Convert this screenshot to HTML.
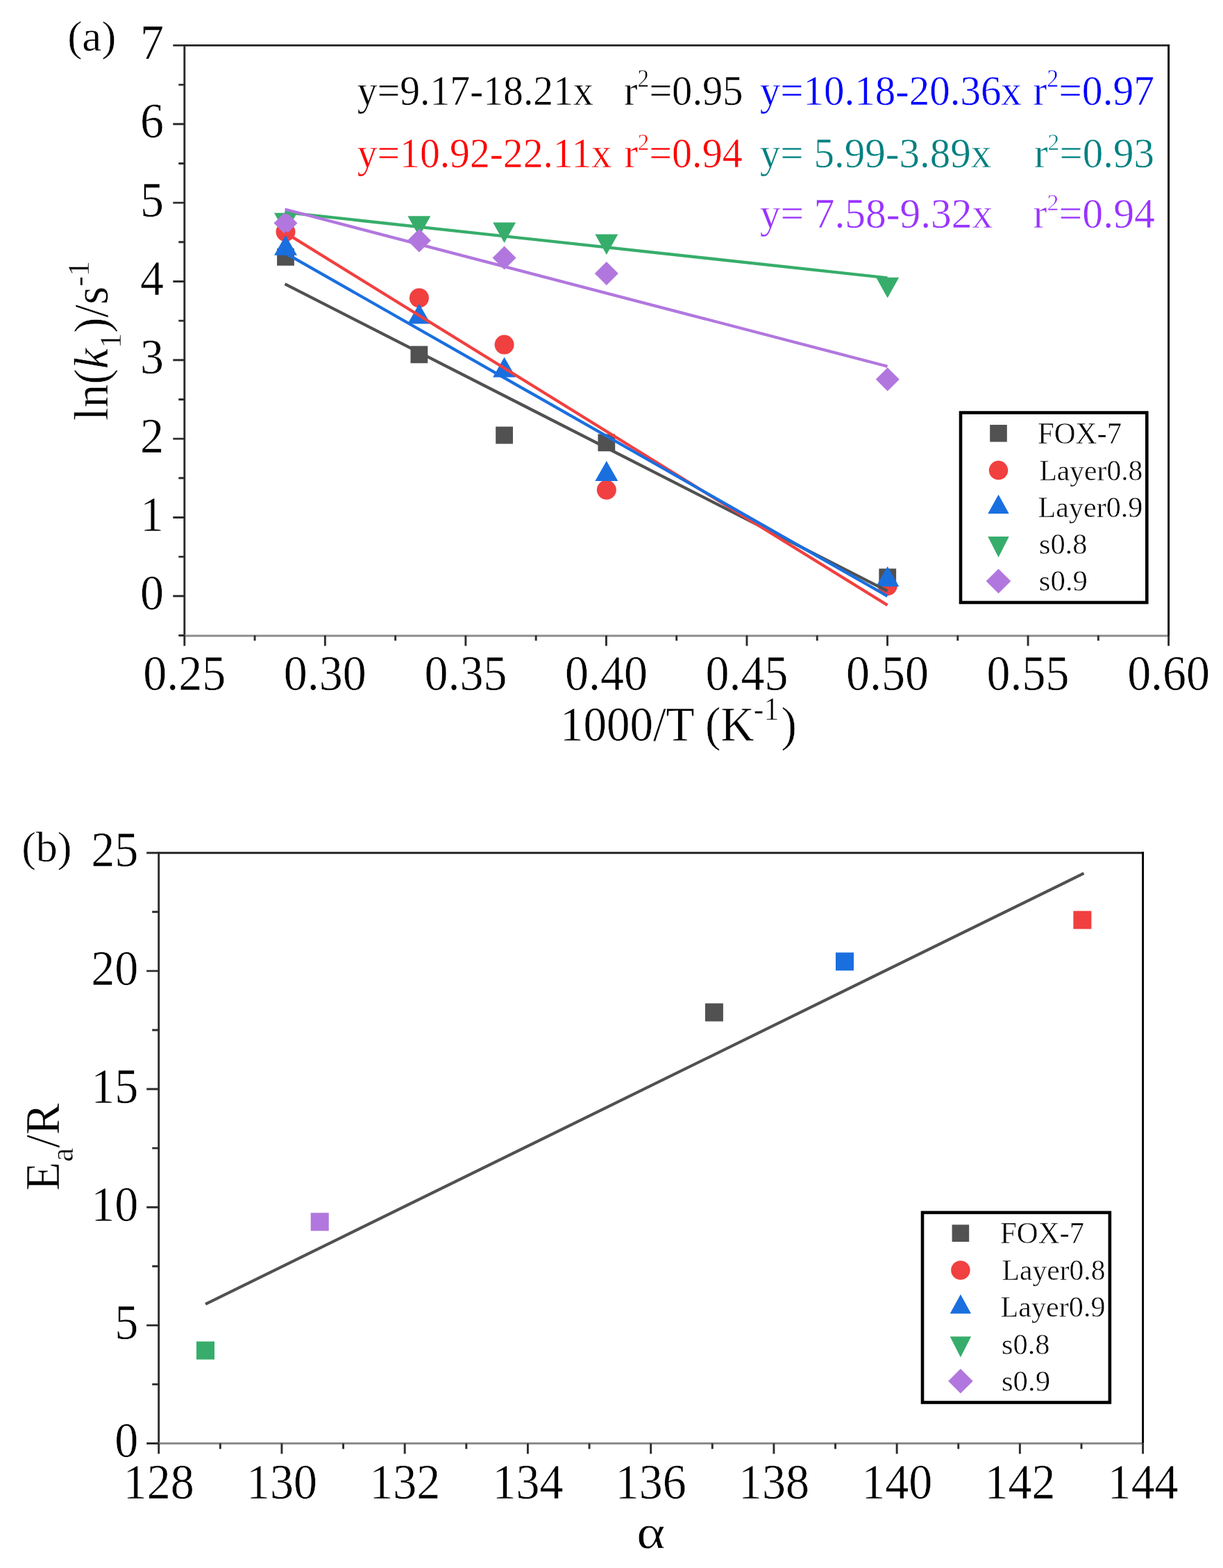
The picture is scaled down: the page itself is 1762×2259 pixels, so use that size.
<!DOCTYPE html>
<html><head><meta charset="utf-8"><title>Figure</title>
<style>html,body{margin:0;padding:0;background:#fff;overflow:hidden;}svg{display:block;}text{font-family:"Liberation Serif", "Times New Roman", serif;stroke:#fff;stroke-width:0.5px;}</style>
</head><body>
<svg width="1762" height="2259" viewBox="0 0 1762 2259">
<rect width="1762" height="2259" fill="#fff"/>
<g id="panel-a">
<path d="M264.35 65.42H1685.07" stroke="#222" stroke-width="2.9"/>
<path d="M265.8 65.42V915.97" stroke="#2a2a2a" stroke-width="2.9"/>
<path d="M265.8 915.97H1683.62" stroke="#8c8c8c" stroke-width="2.9"/>
<path d="M1683.62 63.97V915.97" stroke="#000" stroke-width="2.9"/>
<path d="M249.3 858.8H265.8M249.3 745.46H265.8M249.3 632.12H265.8M249.3 518.78H265.8M249.3 405.44H265.8M249.3 292.1H265.8M249.3 178.76H265.8M249.3 65.42H265.8M257.3 915.47H265.8M257.3 802.13H265.8M257.3 688.79H265.8M257.3 575.45H265.8M257.3 462.11H265.8M257.3 348.77H265.8M257.3 235.43H265.8M257.3 122.09H265.8M265.8 915.47V930.47M468.34 915.47V930.47M670.89 915.47V930.47M873.44 915.47V930.47M1075.98 915.47V930.47M1278.53 915.47V930.47M1481.07 915.47V930.47M1683.62 915.47V930.47M367.07 915.47V922.97M569.62 915.47V922.97M772.16 915.47V922.97M974.71 915.47V922.97M1177.25 915.47V922.97M1379.8 915.47V922.97M1582.34 915.47V922.97" stroke="#2c2c2c" stroke-width="2.9" fill="none"/>
<g font-size="68" fill="#000" text-anchor="end">
<text transform="translate(236 878.4) scale(1 1.045)">0</text>
<text transform="translate(236 765.06) scale(1 1.045)">1</text>
<text transform="translate(236 651.72) scale(1 1.045)">2</text>
<text transform="translate(236 538.38) scale(1 1.045)">3</text>
<text transform="translate(236 425.04) scale(1 1.045)">4</text>
<text transform="translate(236 311.7) scale(1 1.045)">5</text>
<text transform="translate(236 198.36) scale(1 1.045)">6</text>
<text transform="translate(236 85.02) scale(1 1.045)">7</text>
</g>
<g font-size="68" fill="#000" text-anchor="middle">
<text transform="translate(265.8 994.3) scale(1 1.045)">0.25</text>
<text transform="translate(468.34 994.3) scale(1 1.045)">0.30</text>
<text transform="translate(670.89 994.3) scale(1 1.045)">0.35</text>
<text transform="translate(873.44 994.3) scale(1 1.045)">0.40</text>
<text transform="translate(1075.98 994.3) scale(1 1.045)">0.45</text>
<text transform="translate(1278.53 994.3) scale(1 1.045)">0.50</text>
<text transform="translate(1481.07 994.3) scale(1 1.045)">0.55</text>
<text transform="translate(1683.62 994.3) scale(1 1.045)">0.60</text>
</g>
<text transform="translate(807 1067) scale(1 1.045)" font-size="67" fill="#000">1000/T (K<tspan font-size="44" dy="-29" dx="-1">-1</tspan><tspan dy="29" dx="3">)</tspan></text>
<text transform="translate(155 491) rotate(-90) scale(1 1.03)" text-anchor="middle" font-size="67" fill="#000">ln(<tspan font-style="italic">k</tspan><tspan font-size="44" dy="18">1</tspan><tspan dy="-18">)/s</tspan><tspan font-size="44" dy="-26.5">-1</tspan></text>
<text transform="translate(97.2 73.2) scale(1.02 1)" font-size="62" fill="#000">(a)</text>
<text transform="translate(514.81 150.80) scale(0.9944 1.0579)" font-size="58" fill="#000">y=9.17-18.21x</text>
<text transform="translate(898.98 150.80) scale(1.0091 1.0579)" font-size="58" fill="#000">r<tspan font-size="33" dy="-24">2</tspan><tspan dy="24">=0.95</tspan></text>
<text transform="translate(514.81 240.90) scale(0.9932 1.0447)" font-size="58" fill="#FF0000">y=10.92-22.11x</text>
<text transform="translate(899.50 240.90) scale(1.0012 1.0447)" font-size="58" fill="#FF0000">r<tspan font-size="33" dy="-24">2</tspan><tspan dy="24">=0.94</tspan></text>
<text transform="translate(1094.78 150.70) scale(1.0165 1.0553)" font-size="58" fill="#0000FF">y=10.18-20.36x</text>
<text transform="translate(1488.44 150.70) scale(1.0277 1.0553)" font-size="58" fill="#0000FF">r<tspan font-size="33" dy="-24">2</tspan><tspan dy="24">=0.97</tspan></text>
<text transform="translate(1094.78 240.80) scale(1.0185 1.0395)" font-size="58" fill="#008080">y= 5.99-3.89x</text>
<text transform="translate(1489.96 240.80) scale(1.0176 1.0395)" font-size="58" fill="#008080">r<tspan font-size="33" dy="-24">2</tspan><tspan dy="24">=0.93</tspan></text>
<text transform="translate(1094.78 327.80) scale(1.0240 1.0447)" font-size="58" fill="#9933FF">y= 7.58-9.32x</text>
<text transform="translate(1488.43 327.80) scale(1.0329 1.0447)" font-size="58" fill="#9933FF">r<tspan font-size="33" dy="-24">2</tspan><tspan dy="24">=0.94</tspan></text>
<rect x="399.07" y="357.9" width="24.8" height="24.8" fill="#515151"/>
<rect x="591.48" y="498.45" width="24.8" height="24.8" fill="#515151"/>
<rect x="714.18" y="614.62" width="24.8" height="24.8" fill="#515151"/>
<rect x="861.44" y="625.39" width="24.8" height="24.8" fill="#515151"/>
<rect x="1266.33" y="819.2" width="24.8" height="24.8" fill="#515151"/>
<circle cx="411.47" cy="334.04" r="14" fill="#F14040"/>
<circle cx="603.88" cy="429.24" r="14" fill="#F14040"/>
<circle cx="726.58" cy="496.57" r="14" fill="#F14040"/>
<circle cx="873.84" cy="705.79" r="14" fill="#F14040"/>
<circle cx="1278.73" cy="844.07" r="14" fill="#F14040"/>
<polygon points="411.47,338.8 427.97,367.8 394.97,367.8" fill="#1A6FDF"/>
<polygon points="603.88,437.41 620.38,466.41 587.38,466.41" fill="#1A6FDF"/>
<polygon points="726.58,514.48 743.08,543.48 710.08,543.48" fill="#1A6FDF"/>
<polygon points="873.84,664.09 890.34,693.09 857.34,693.09" fill="#1A6FDF"/>
<polygon points="1278.73,815.96 1295.23,844.96 1262.23,844.96" fill="#1A6FDF"/>
<polygon points="394.97,306.82 427.97,306.82 411.47,336.32" fill="#37AD6B"/>
<polygon points="587.38,311.35 620.38,311.35 603.88,340.85" fill="#37AD6B"/>
<polygon points="710.08,320.42 743.08,320.42 726.58,349.92" fill="#37AD6B"/>
<polygon points="857.34,337.42 890.34,337.42 873.84,366.92" fill="#37AD6B"/>
<polygon points="1262.23,399.76 1295.23,399.76 1278.73,429.26" fill="#37AD6B"/>
<polygon points="411.47,304.57 428.47,321.57 411.47,338.57 394.47,321.57" fill="#B177DE"/>
<polygon points="603.88,329.5 620.88,346.5 603.88,363.5 586.88,346.5" fill="#B177DE"/>
<polygon points="726.58,354.44 743.58,371.44 726.58,388.44 709.58,371.44" fill="#B177DE"/>
<polygon points="873.84,377.11 890.84,394.11 873.84,411.11 856.84,394.11" fill="#B177DE"/>
<polygon points="1278.73,529.55 1295.73,546.55 1278.73,563.55 1261.73,546.55" fill="#B177DE"/>
<line x1="410.47" y1="409.16" x2="1278.53" y2="851.43" stroke="#515151" stroke-width="4.3"/>
<line x1="410.47" y1="334.85" x2="1278.53" y2="871.83" stroke="#F14040" stroke-width="4.3"/>
<line x1="410.47" y1="364.31" x2="1278.53" y2="858.8" stroke="#1A6FDF" stroke-width="4.3"/>
<line x1="410.47" y1="305.86" x2="1278.53" y2="400.34" stroke="#37AD6B" stroke-width="4.3"/>
<line x1="410.47" y1="301.49" x2="1278.53" y2="527.85" stroke="#B177DE" stroke-width="4.3"/>
<rect x="1384" y="594.5" width="268.3" height="273.5" fill="#fff" stroke="#000" stroke-width="4.6"/>
<rect x="1426.2" y="612" width="24.6" height="24.6" fill="#515151"/>
<circle cx="1438.5" cy="677.6" r="13.75" fill="#F14040"/>
<polygon points="1438.5,712.4 1453.7,740 1423.3,740" fill="#1A6FDF"/>
<polygon points="1423.3,773 1453.7,773 1438.5,803" fill="#37AD6B"/>
<polygon points="1438.5,819.5 1456.3,837.3 1438.5,855.1 1420.7,837.3" fill="#B177DE"/>
<text transform="translate(1494.97 638.50) scale(1.0174 1.0393)" font-size="42" fill="#000">FOX-7</text>
<text transform="translate(1497.42 691.60) scale(0.9904 1.0214)" font-size="42" fill="#000">Layer0.8</text>
<text transform="translate(1495.49 744.80) scale(1.0034 1.0143)" font-size="42" fill="#000">Layer0.9</text>
<text transform="translate(1496.88 797.90) scale(1.0108 0.9857)" font-size="42" fill="#000">s0.8</text>
<text transform="translate(1496.86 851.10) scale(1.0185 1.0250)" font-size="42" fill="#000">s0.9</text>
</g>
<g id="panel-b">
<path d="M227.25 1228.75H1648.07" stroke="#222" stroke-width="2.9"/>
<path d="M228.7 1228.75V2079.5" stroke="#2a2a2a" stroke-width="2.9"/>
<path d="M228.7 2079.5H1646.62" stroke="#8c8c8c" stroke-width="2.9"/>
<path d="M1646.62 1227.3V2079.5" stroke="#000" stroke-width="2.9"/>
<path d="M211.2 2079.5H228.7M211.2 1909.35H228.7M211.2 1739.2H228.7M211.2 1569.05H228.7M211.2 1398.9H228.7M211.2 1228.75H228.7M219.2 1994.42H228.7M219.2 1824.28H228.7M219.2 1654.12H228.7M219.2 1483.97H228.7M219.2 1313.82H228.7M228.7 2079.5V2094.5M405.94 2079.5V2094.5M583.18 2079.5V2094.5M760.42 2079.5V2094.5M937.66 2079.5V2094.5M1114.9 2079.5V2094.5M1292.14 2079.5V2094.5M1469.38 2079.5V2094.5M1646.62 2079.5V2094.5M317.32 2079.5V2087.5M494.56 2079.5V2087.5M671.8 2079.5V2087.5M849.04 2079.5V2087.5M1026.28 2079.5V2087.5M1203.52 2079.5V2087.5M1380.76 2079.5V2087.5M1558 2079.5V2087.5" stroke="#2c2c2c" stroke-width="2.9" fill="none"/>
<g font-size="68" fill="#000" text-anchor="end">
<text transform="translate(199.3 2099.1) scale(1 1.045)">0</text>
<text transform="translate(199.3 1928.95) scale(1 1.045)">5</text>
<text transform="translate(199.3 1758.8) scale(1 1.045)">10</text>
<text transform="translate(199.3 1588.65) scale(1 1.045)">15</text>
<text transform="translate(199.3 1418.5) scale(1 1.045)">20</text>
<text transform="translate(199.3 1248.35) scale(1 1.045)">25</text>
</g>
<g font-size="68" fill="#000" text-anchor="middle">
<text transform="translate(228.7 2159) scale(1 1.045)">128</text>
<text transform="translate(405.94 2159) scale(1 1.045)">130</text>
<text transform="translate(583.18 2159) scale(1 1.045)">132</text>
<text transform="translate(760.42 2159) scale(1 1.045)">134</text>
<text transform="translate(937.66 2159) scale(1 1.045)">136</text>
<text transform="translate(1114.9 2159) scale(1 1.045)">138</text>
<text transform="translate(1292.14 2159) scale(1 1.045)">140</text>
<text transform="translate(1469.38 2159) scale(1 1.045)">142</text>
<text transform="translate(1646.62 2159) scale(1 1.045)">144</text>
</g>
<text transform="translate(937.7 2230.3) scale(1.15 0.98)" font-size="68" fill="#000" text-anchor="middle">α</text>
<text transform="translate(85 1652.5) rotate(-90) scale(1 1.03)" text-anchor="middle" font-size="68" fill="#000">E<tspan font-size="45" dy="19">a</tspan><tspan dy="-19">/R</tspan></text>
<text transform="translate(31.2 1240.7) scale(1.0 1.0)" font-size="62" fill="#000">(b)</text>
<line x1="296" y1="1878.9" x2="1561.5" y2="1258.2" stroke="#515151" stroke-width="4.2"/>
<rect x="283" y="1932.6" width="26" height="26" fill="#37AD6B"/>
<rect x="447.7" y="1747.3" width="26" height="26" fill="#B177DE"/>
<rect x="1015.9" y="1445.5" width="26" height="26" fill="#515151"/>
<rect x="1204" y="1372.3" width="26" height="26" fill="#1A6FDF"/>
<rect x="1546.4" y="1312.4" width="26" height="26" fill="#F14040"/>
<rect x="1329" y="1746.9" width="269.9" height="273.6" fill="#fff" stroke="#000" stroke-width="4.6"/>
<rect x="1371.6" y="1764.4" width="24.6" height="24.6" fill="#515151"/>
<circle cx="1383.9" cy="1830" r="13.75" fill="#F14040"/>
<polygon points="1383.9,1864.8 1399.1,1892.4 1368.7,1892.4" fill="#1A6FDF"/>
<polygon points="1368.7,1925.4 1399.1,1925.4 1383.9,1955.4" fill="#37AD6B"/>
<polygon points="1383.9,1971.9 1401.7,1989.7 1383.9,2007.5 1366.1,1989.7" fill="#B177DE"/>
<text transform="translate(1441.07 1791.10) scale(1.0174 1.0393)" font-size="42" fill="#000">FOX-7</text>
<text transform="translate(1443.52 1844.20) scale(0.9904 1.0214)" font-size="42" fill="#000">Layer0.8</text>
<text transform="translate(1441.59 1897.40) scale(1.0034 1.0143)" font-size="42" fill="#000">Layer0.9</text>
<text transform="translate(1442.98 1950.50) scale(1.0108 0.9857)" font-size="42" fill="#000">s0.8</text>
<text transform="translate(1442.96 2003.70) scale(1.0185 1.0250)" font-size="42" fill="#000">s0.9</text>
</g>
</svg>
</body></html>
